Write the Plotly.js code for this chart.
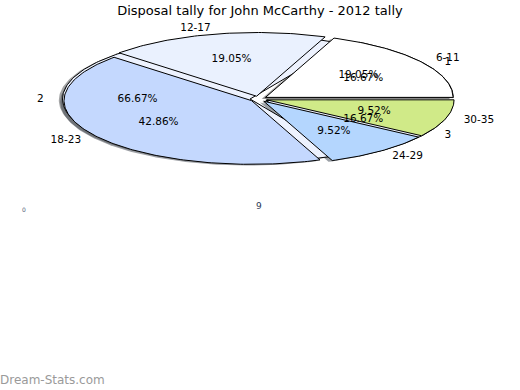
<!DOCTYPE html>
<html>
<head>
<meta charset="utf-8">
<script src="https://cdn.plot.ly/plotly-3.0.1.min.js"></script>
<style>html,body{margin:0;padding:0;background:#fff;}#chart{width:520px;height:390px;}</style>
</head>
<body>
<div id="chart"></div>
<script>
// ---- data ----
const ageLabels = ['6-11', '12-17', '18-23', '24-29', '30-35'];
const ageValues = [4, 4, 9, 2, 2];
const groupLabels = ['1', '2', '3'];
const groupValues = [1, 4, 1];
const chartTitle = 'Disposal tally for John McCarthy - 2012 tally';
const stray = ['0', '9'];
const watermark = 'Dream-Stats.com';

// ---- styling ----
const ageColors = ['#FFFFFF', '#EAF1FE', '#C4D8FE', '#B4D6FE', '#D0EA88'];
const groupColors = ['#F2F6FE', '#EDF2FE', '#EEF3FE'];
const W = 520, H = 390;
const CX = 258.5, CY = 99, RX = 187.5, RY = 63.7; // pixel geometry of the ellipse
const EXPLODE = 0.045, SH = -0.02;
const FONT = 'DejaVu Sans, sans-serif';
const FS = 10.5;

function wedges(values, explode) {
  const total = values.reduce((a, b) => a + b, 0);
  let start = 0;
  return values.map(v => {
    const a1 = start, a2 = start + 360 * v / total;
    start = a2;
    const mid = (a1 + a2) / 2 * Math.PI / 180;
    return {a1, a2, mid, frac: v / total,
      ox: explode * Math.cos(mid), oy: explode * Math.sin(mid)};
  });
}
function poly(w, dx, dy) {
  const xs = [w.ox + dx], ys = [w.oy + dy];
  const n = Math.max(4, Math.ceil(w.a2 - w.a1));
  for (let i = 0; i <= n; i++) {
    const t = (w.a1 + (w.a2 - w.a1) * i / n) * Math.PI / 180;
    xs.push(w.ox + dx + Math.cos(t));
    ys.push(w.oy + dy + Math.sin(t));
  }
  xs.push(w.ox + dx); ys.push(w.oy + dy);
  return {xs, ys};
}
function shade(hex) {
  const r = parseInt(hex.slice(1, 3), 16), g = parseInt(hex.slice(3, 5), 16), b = parseInt(hex.slice(5, 7), 16);
  return `rgba(${Math.round(r * 0.3)},${Math.round(g * 0.3)},${Math.round(b * 0.3)},0.5)`;
}

const traces = [];
const gw = wedges(groupValues, EXPLODE);
const aw = wedges(ageValues, EXPLODE);

function addShadows(ws, colors) {
  ws.forEach((w, i) => {
    const s = poly(w, SH, SH);
    traces.push({type: 'scatter', mode: 'lines', x: s.xs, y: s.ys, fill: 'toself',
      fillcolor: shade(colors[i]), line: {width: 0}, hoverinfo: 'skip', showlegend: false});
  });
}
function addWedges(ws, colors) {
  ws.forEach((w, i) => {
    const p = poly(w, 0, 0);
    traces.push({type: 'scatter', mode: 'lines', x: p.xs, y: p.ys, fill: 'toself',
      fillcolor: colors[i], line: {color: '#000', width: 1}, hoverinfo: 'skip', showlegend: false});
  });
}
function addText(ws, labels) {
  ws.forEach((w, i) => {
    const lx = w.ox + 1.1 * Math.cos(w.mid), ly = w.oy + 1.1 * Math.sin(w.mid);
    traces.push({type: 'scatter', mode: 'text', x: [lx], y: [ly], text: [labels[i]],
      textposition: lx > 0 ? 'middle right' : 'middle left',
      textfont: {family: FONT, size: FS, color: '#000'}, hoverinfo: 'skip', showlegend: false});
    const px = w.ox + 0.6 * Math.cos(w.mid), py = w.oy + 0.6 * Math.sin(w.mid);
    traces.push({type: 'scatter', mode: 'text', x: [px], y: [py], text: [(w.frac * 100).toFixed(2) + '%'],
      textposition: 'middle center',
      textfont: {family: FONT, size: FS, color: '#000'}, hoverinfo: 'skip', showlegend: false});
  });
}

addShadows(gw, groupColors);
addShadows(aw, ageColors);
addWedges(gw, groupColors);
addWedges(aw, ageColors);
addText(aw, ageLabels);
addText(gw, groupLabels);

const layout = {
  width: W, height: H,
  margin: {l: 0, r: 0, t: 0, b: 0},
  paper_bgcolor: '#fff', plot_bgcolor: '#fff',
  title: {text: chartTitle, x: 0.5, xanchor: 'center', y: 1 - 10 / H, yanchor: 'middle', yref: 'container',
    font: {family: FONT, size: 13, color: '#000'}},
  xaxis: {range: [-CX / RX, (W - CX) / RX], visible: false, fixedrange: true},
  yaxis: {range: [-(H - CY) / RY, CY / RY], visible: false, fixedrange: true},
  annotations: [
    {text: stray[0], x: 20 / W, y: 1 - 209 / H, xref: 'paper', yref: 'paper', yanchor: 'middle', showarrow: false,
      font: {family: FONT, size: 6, color: '#55607a'}},
    {text: stray[1], x: 259 / W, y: 1 - 206 / H, xref: 'paper', yref: 'paper', yanchor: 'middle', showarrow: false,
      font: {family: FONT, size: 9, color: '#2b3a55'}},
    {text: watermark, x: 0, xanchor: 'left', xshift: -2, y: 1 - 380 / H, yanchor: 'middle', xref: 'paper', yref: 'paper', showarrow: false,
      font: {family: FONT, size: 12, color: '#9a9a9a'}}
  ]
};
Plotly.newPlot('chart', traces, layout, {staticPlot: true, displayModeBar: false});
</script>
</body>
</html>
